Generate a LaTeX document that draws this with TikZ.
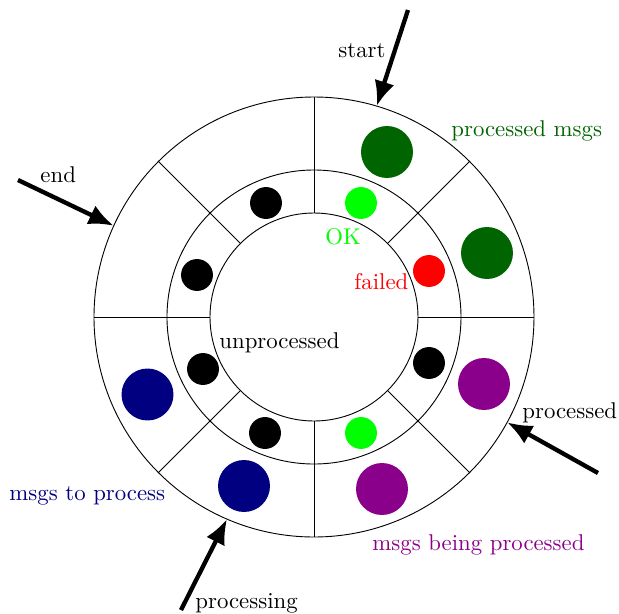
\documentclass[tikz,border=0pt]{standalone}
\usetikzlibrary{arrows.meta}
\definecolor{okgreen}{RGB}{0,255,0}
\definecolor{failred}{RGB}{255,0,0}
\definecolor{donegreen}{RGB}{0,100,0}
\definecolor{busyviolet}{RGB}{139,0,139}
\definecolor{waitnavy}{RGB}{0,0,128}
\begin{document}
\begin{tikzpicture}[x=0.4386pt,y=0.4386pt,
  ring/.style={draw=black, line width=0.4pt},
  bigdot/.style={circle, fill=#1, inner sep=0pt, minimum size=22.8pt},
  smalldot/.style={circle, fill=#1, inner sep=0pt, minimum size=14pt},
  flow/.style={line width=1.9pt, -{Latex[length=11pt,width=9pt]}},
  lbl/.style={inner sep=0pt, anchor=base west}]
\useasboundingbox (-314,-296) rectangle (305,317);
\coordinate (c) at (0,0);

% three rings and the eight spokes
\draw[ring] (c) circle[radius=104];
\draw[ring] (c) circle[radius=147];
\draw[ring] (c) circle[radius=220];
\foreach \a in {0,45,...,315}
  \draw[ring] (\a:104) -- (\a:220);

% message slots in the outer ring
\foreach \p/\col [count=\i] in {{(73,165)}/donegreen, {(173,64)}/donegreen,
                               {(170,-67)}/busyviolet, {(68,-172)}/busyviolet,
                               {(-70,-169)}/waitnavy, {(-166.5,-77.5)}/waitnavy}
  \node[bigdot=\col] (msg\i) at \p {};

% status slots in the inner ring
\foreach \p/\col [count=\i] in {{(47,114)}/okgreen, {(115,46)}/failred,
                               {(115,-46)}/black, {(47,-116)}/okgreen,
                               {(-49,-116)}/black, {(-111,-52)}/black,
                               {(-117,42)}/black, {(-48,114)}/black}
  \node[smalldot=\col] (st\i) at \p {};

% pointers
\coordinate (startfrom) at (94,307);
\coordinate (startto) at (73.45:220);
\coordinate (endfrom) at (-296,137);
\coordinate (endto) at (155.5:220);
\coordinate (procdfrom) at (284,-156);
\coordinate (procdto) at (-28.6:220);
\coordinate (procgfrom) at (-133,-293);
\coordinate (procgto) at (246.7:220);
\draw[flow] (startfrom) -- (startto);
\draw[flow] (endfrom) -- (endto);
\draw[flow] (procdfrom) -- (procdto);
\draw[flow] (procgfrom) -- (procgto);

% labels
\node[lbl] (lstart) at (24,260) {start};
\node[lbl] (lend) at (-274,135) {end};
\node[lbl, text=donegreen] (ldone) at (137,181) {processed msgs};
\node[lbl, text=okgreen] (lok) at (11,73) {OK};
\node[lbl, text=failred] (lfail) at (40,28) {failed};
\node[lbl] (lunp) at (-95,-31) {unprocessed};
\node[lbl] (lprocd) at (208,-101) {processed};
\node[lbl, text=waitnavy] (lwait) at (-305,-183) {msgs to process};
\node[lbl, text=busyviolet] (lbusy) at (58,-233) {msgs being processed};
\node[lbl] (lprocg) at (-119,-291) {processing};
\end{tikzpicture}
\end{document}
